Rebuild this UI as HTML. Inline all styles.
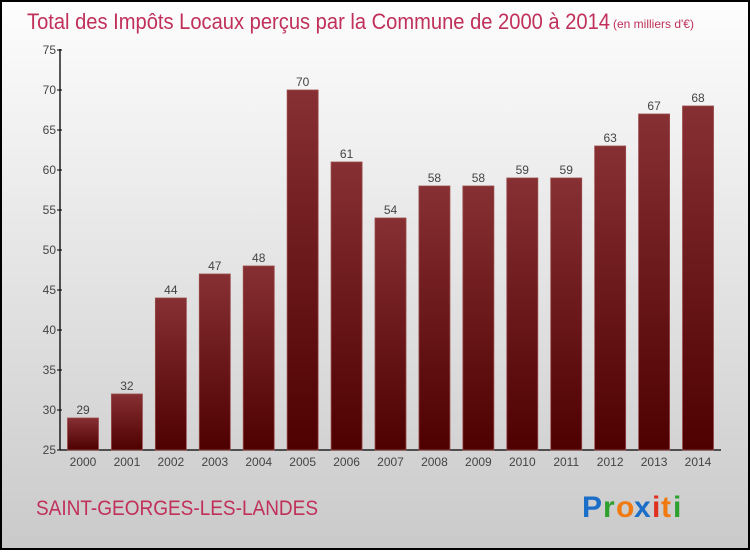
<!DOCTYPE html>
<html><head><meta charset="utf-8"><style>
html,body{margin:0;padding:0}
body{width:750px;height:550px;overflow:hidden;font-family:"Liberation Sans",sans-serif}
</style></head><body>
<svg id="chart" width="750" height="550" xmlns="http://www.w3.org/2000/svg">
<defs>
<linearGradient id="bg" x1="0" y1="0" x2="0" y2="1"><stop offset="0" stop-color="#fdfdfd"/><stop offset="1" stop-color="#cacaca"/></linearGradient>
<linearGradient id="bar" x1="0" y1="0" x2="0" y2="1"><stop offset="0" stop-color="#873034"/><stop offset="1" stop-color="#4e0000"/></linearGradient>
</defs>
<rect x="1" y="1" width="748" height="548" fill="url(#bg)" stroke="#000" stroke-width="2"/>
<text x="27" y="29" font-size="22" fill="#c0305a" textLength="583" lengthAdjust="spacingAndGlyphs">Total des Impôts Locaux perçus par la Commune de 2000 à 2014</text>
<text x="613" y="28" font-size="12" fill="#c0305a">(en milliers d'€)</text>
<g id="axes"></g>
<g id="bars"></g>
<text x="36" y="515" font-size="21" fill="#c0305a" textLength="282" lengthAdjust="spacingAndGlyphs">SAINT-GEORGES-LES-LANDES</text>
<g font-size="30" font-weight="bold" font-family="'Liberation Sans',sans-serif">
<text x="582" y="517" fill="#1c6fc8">P</text><text x="603" y="517" fill="#2ea02e">r</text><text x="616" y="517" fill="#f07a10">o</text><text x="634" y="517" fill="#1c6fc8">x</text><text x="652" y="517" fill="#e03020">i</text><text x="661" y="517" fill="#f07a10">t</text><text x="673" y="517" fill="#2ea02e">i</text>
</g>
</svg>
<script>
const years=["2000","2001","2002","2003","2004","2005","2006","2007","2008","2009","2010","2011","2012","2013","2014"];
const values=[29,32,44,47,48,70,61,54,58,58,59,59,63,67,68];
const yTicks=[25,30,35,40,45,50,55,60,65,70,75];
const NS="http://www.w3.org/2000/svg";
const y=v=>450-(v-25)*8;
const x=i=>83+i*43.93;
function mk(tag,attrs,parent,txt){const e=document.createElementNS(NS,tag);for(const k in attrs)e.setAttribute(k,attrs[k]);if(txt!==undefined)e.textContent=txt;parent.appendChild(e);return e;}
const ax=document.getElementById('axes'),bg=document.getElementById('bars');
let l=mk('line',{x1:60,y1:49,x2:60,y2:450,stroke:'#000','stroke-width':1.3},ax);


l=mk('line',{x1:60,y1:450,x2:721,y2:450,stroke:'#000','stroke-width':1.3},ax);


yTicks.forEach(t=>{
 const tk=mk('line',{x1:57,y1:y(t),x2:62,y2:y(t),stroke:'#000'},ax);
 
 
 const tx=mk('text',{x:56,y:y(t)+4,'text-anchor':'end','font-size':12,fill:'#444'},ax,t);
 
 
});
values.forEach((v,i)=>{
 const r=mk('rect',{x:x(i)-15.5,y:y(v),width:31,height:450-y(v),fill:'url(#bar)',stroke:'#9a4a4a','stroke-width':0.8},bg);
 
 
 const vl=mk('text',{x:x(i),y:y(v)-4,'text-anchor':'middle','font-size':12,fill:'#444'},bg,v);
 
 
 const xl=mk('text',{x:x(i),y:466,'text-anchor':'middle','font-size':12,fill:'#444'},bg,years[i]);
 
 
});
</script>
</body></html>
